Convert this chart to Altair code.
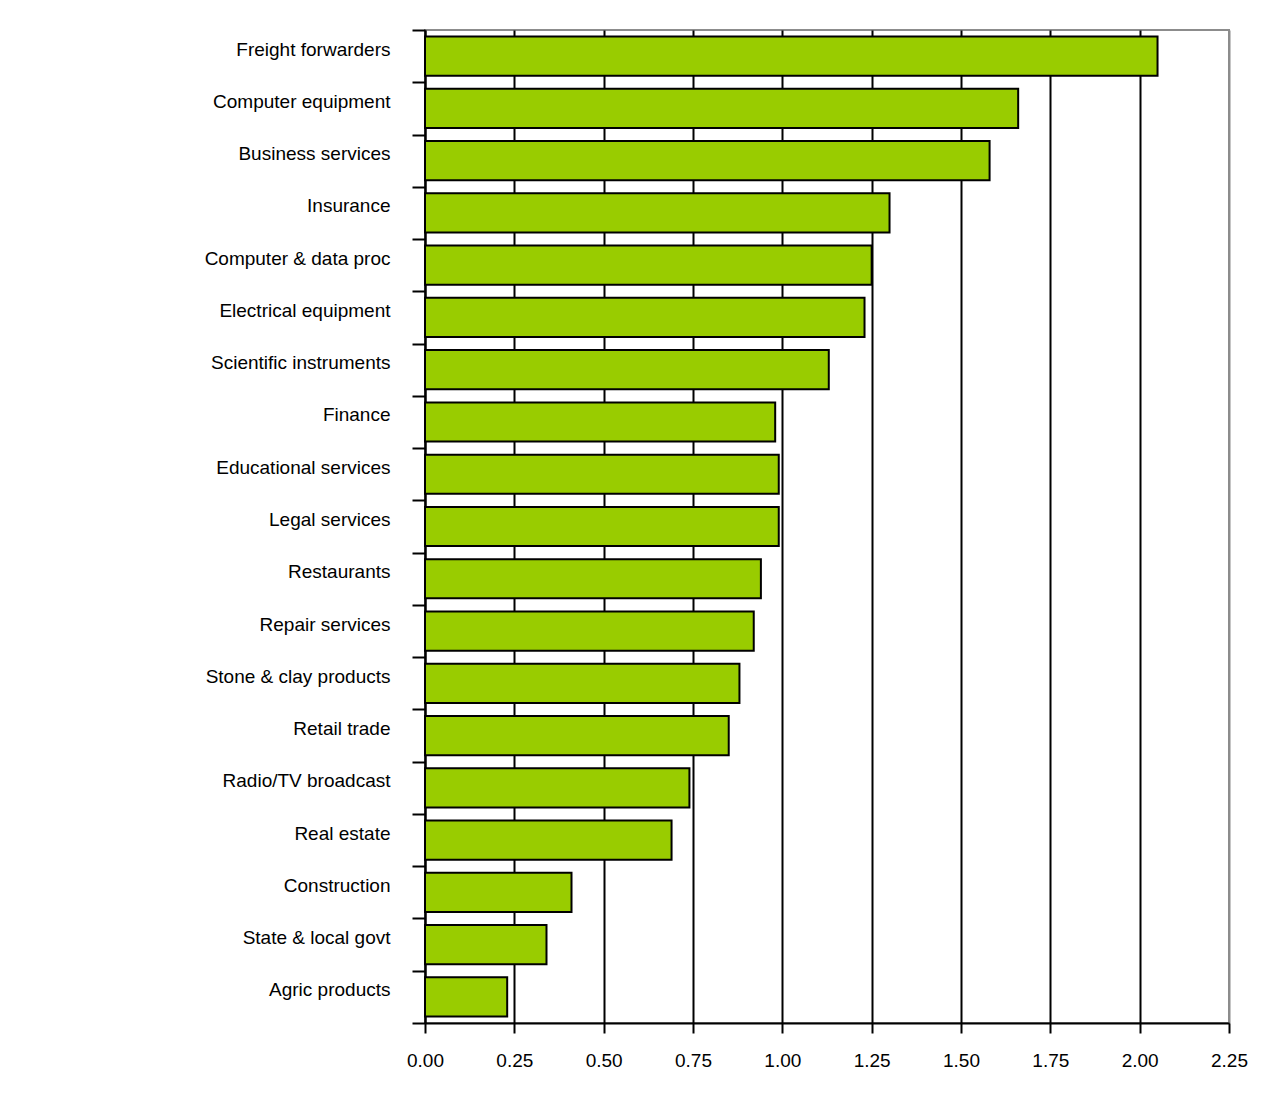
import altair as alt
import pandas as pd

categories = [
    "Freight forwarders", "Computer equipment", "Business services", "Insurance",
    "Computer & data proc", "Electrical equipment", "Scientific instruments",
    "Finance", "Educational services", "Legal services", "Restaurants",
    "Repair services", "Stone & clay products", "Retail trade",
    "Radio/TV broadcast", "Real estate", "Construction", "State & local govt",
    "Agric products",
]
values = [2.05, 1.66, 1.58, 1.30, 1.25, 1.23, 1.13, 0.98, 0.99, 0.99, 0.94,
          0.92, 0.88, 0.85, 0.74, 0.69, 0.41, 0.34, 0.23]
x_ticks = [0, 0.25, 0.5, 0.75, 1.0, 1.25, 1.5, 1.75, 2.0, 2.25]

df = pd.DataFrame({"category": categories, "value": values})

FONT = "Liberation Sans"

chart = (
    alt.Chart(df)
    .mark_bar(fill="#99CC00", stroke="black", strokeWidth=2,
              height=alt.RelativeBandSize(0.75))
    .encode(
        x=alt.X(
            "value:Q",
            scale=alt.Scale(domain=[0, 2.25], nice=False, zero=True),
            axis=alt.Axis(
                title=None,
                values=x_ticks,
                format=".2f",
                grid=True,
                gridColor=alt.condition(alt.datum.value >= 2.24, alt.value("#8c8c8c"), alt.value("black")),
                gridWidth=2,
                domainColor="black",
                domainWidth=2,
                tickColor="black",
                tickWidth=2,
                tickSize=10,
                labelFont=FONT,
                labelFontSize=19,
                labelColor="black",
                labelPadding=18,
                labelFlush=False,
            ),
        ),
        y=alt.Y(
            "category:N",
            sort=categories,
            scale=alt.Scale(paddingInner=0, paddingOuter=0),
            axis=alt.Axis(
                title=None,
                grid=False,
                tickBand="extent",
                domainColor="black",
                domainWidth=2,
                tickColor="black",
                tickWidth=2,
                tickSize=13,
                labelFont=FONT,
                labelFontSize=19,
                labelColor="black",
                labelPadding=22,
                labelOffset=-7,
                labelLimit=400,
            ),
        ),
    )
    .properties(
        width=804,
        height=993,
        autosize=alt.AutoSizeParams(type="none"),
        padding={"left": 417, "top": 22, "right": 49, "bottom": 70},
        background="white",
    )
    .configure_view(stroke="#8c8c8c", strokeWidth=2)
)

chart.save("out.html", embed_options={"renderer": "svg", "actions": False})
